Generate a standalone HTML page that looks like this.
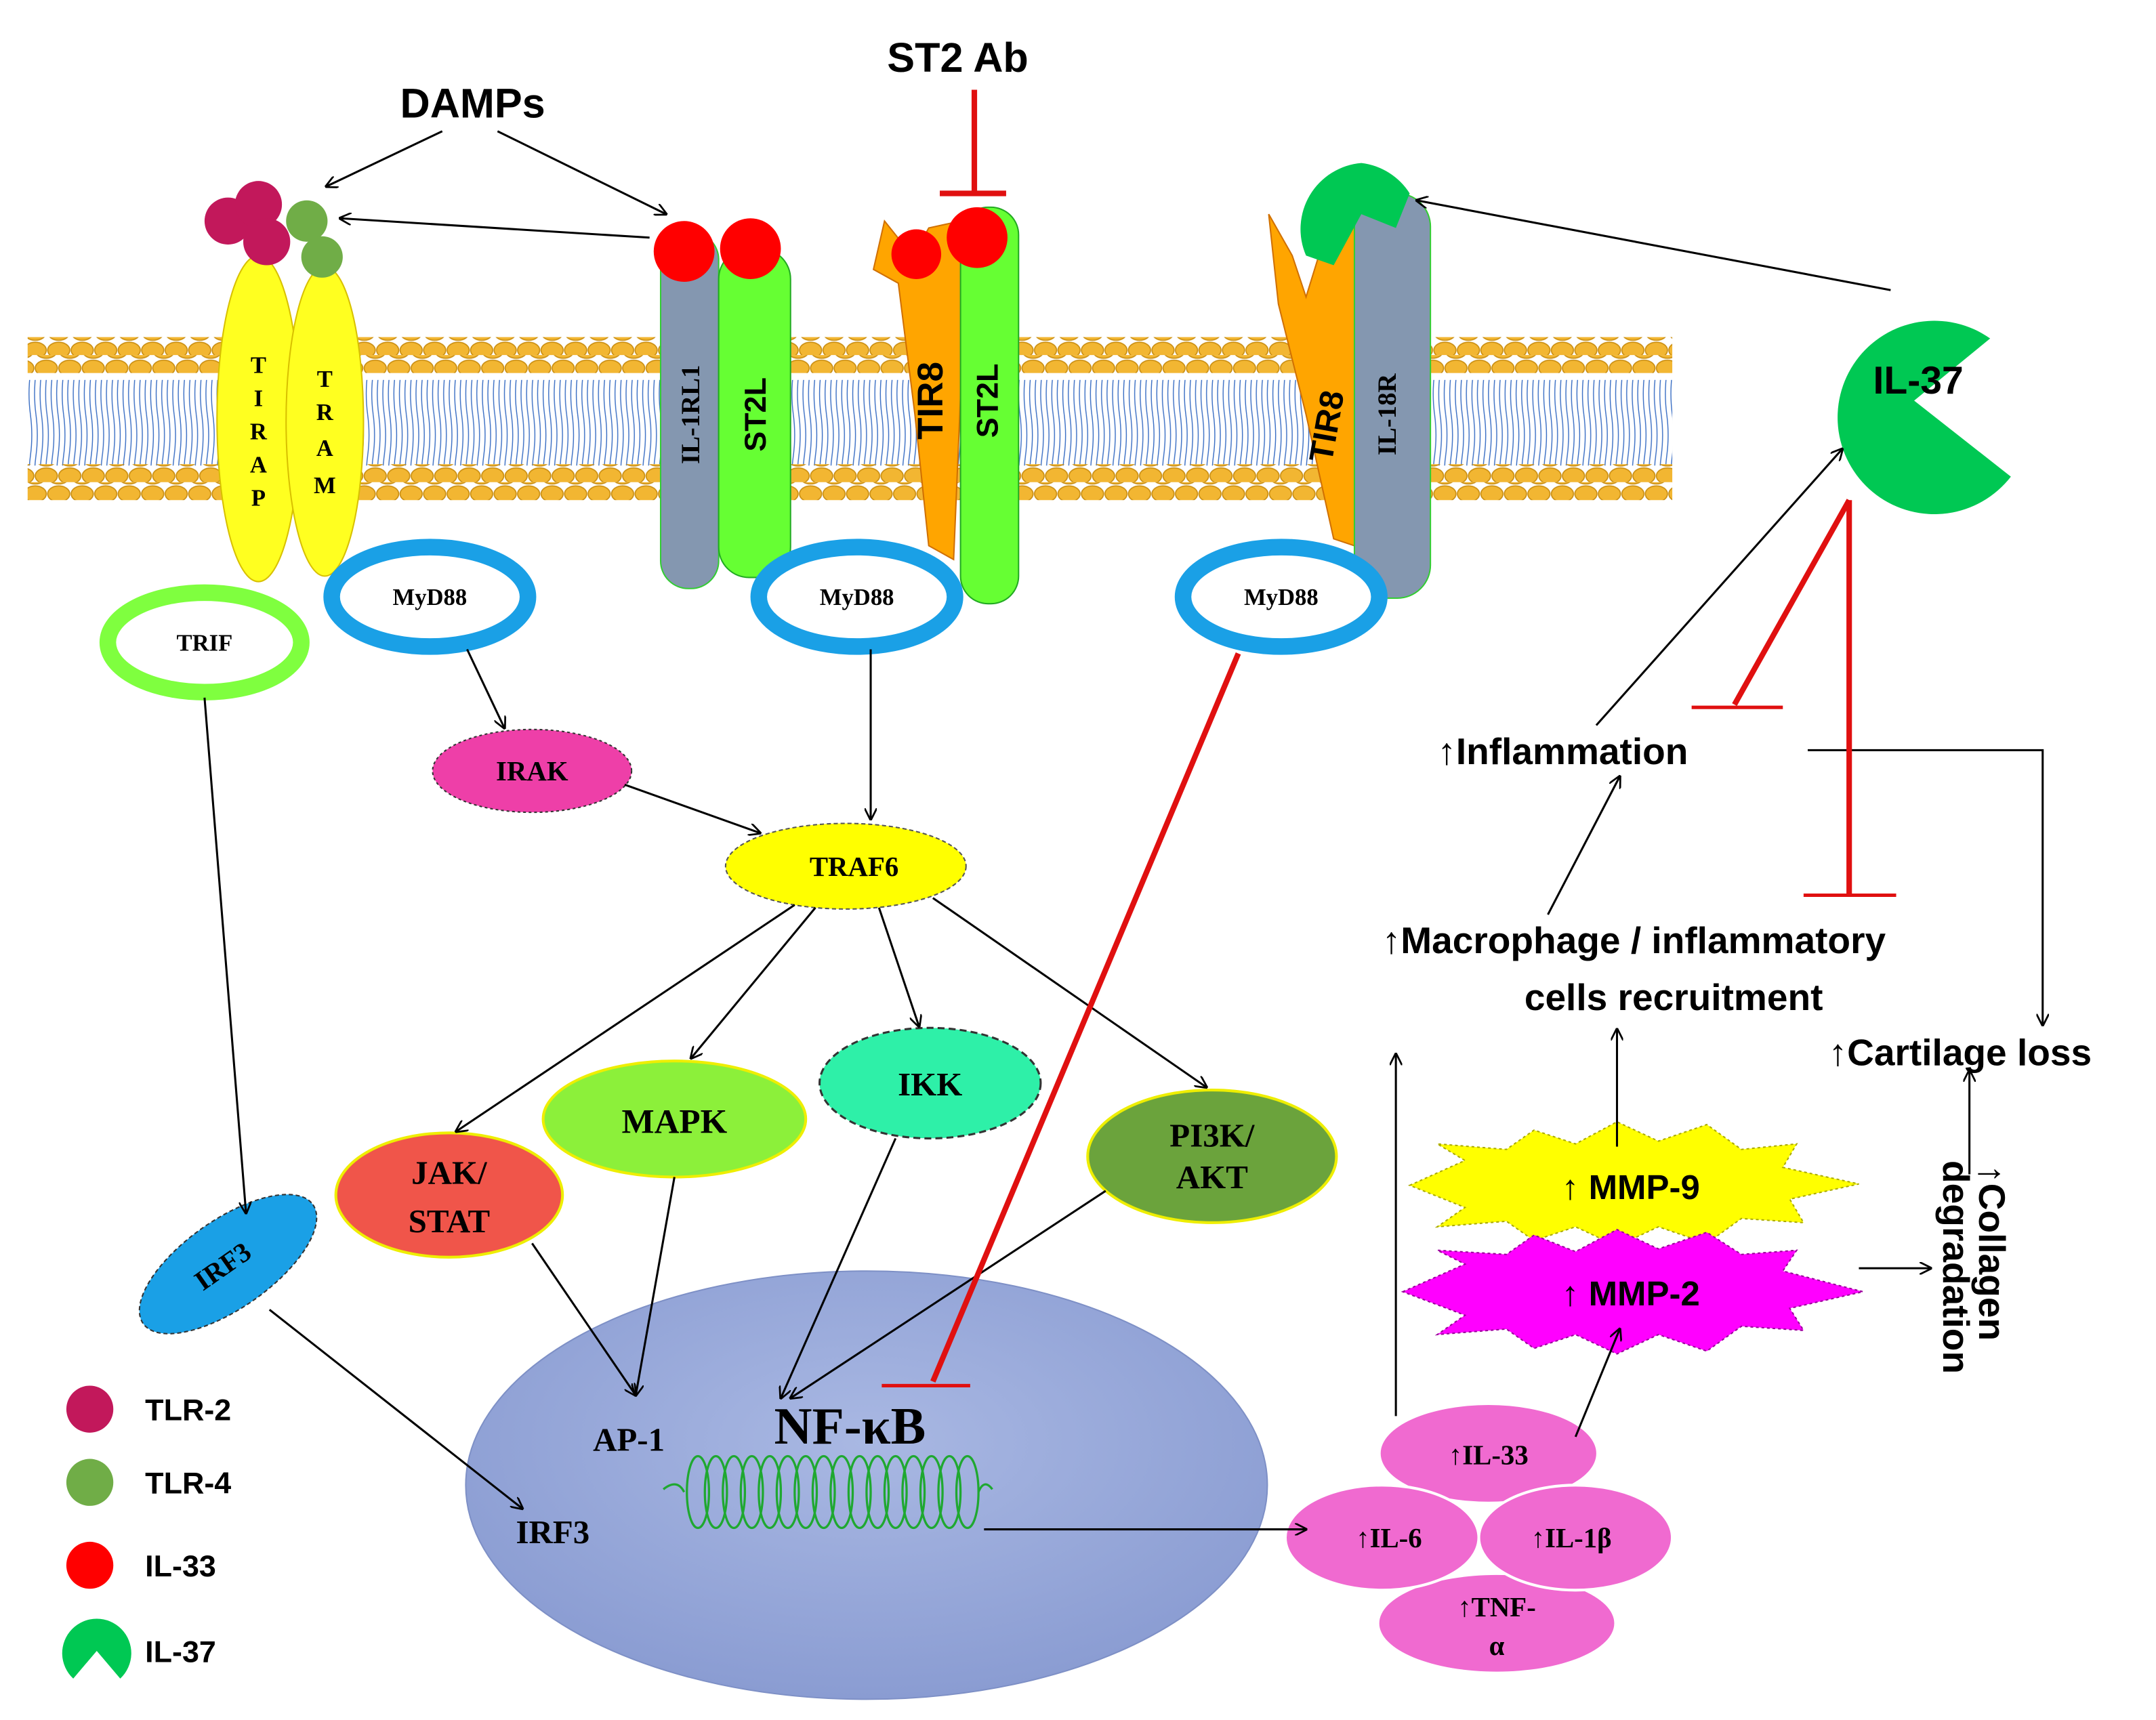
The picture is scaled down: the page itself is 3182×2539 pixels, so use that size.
<!DOCTYPE html>
<html><head><meta charset="utf-8"><style>html,body{margin:0;padding:0;background:#fff}svg{display:block}</style></head>
<body>
<svg width="3182" height="2539" viewBox="0 0 1560 1245" preserveAspectRatio="none" xmlns="http://www.w3.org/2000/svg" font-family="Liberation Sans, sans-serif">
<defs>
<pattern id="heads" width="17" height="13" patternUnits="userSpaceOnUse">
<ellipse cx="8.5" cy="6.5" rx="8" ry="5.8" fill="#f2b632" stroke="#c98d10" stroke-width="0.8"/>
</pattern>
<pattern id="heads2" x="8" width="17" height="13" patternUnits="userSpaceOnUse">
<ellipse cx="8.5" cy="6.5" rx="8" ry="5.8" fill="#f2b632" stroke="#c98d10" stroke-width="0.8"/>
</pattern>
<pattern id="tails" width="8" height="60" patternUnits="userSpaceOnUse">
<path d="M2 0 Q4 15 2 30 Q0 45 2 60 M6 0 Q8 15 6 30 Q4 45 6 60" fill="none" stroke="#3b6fc4" stroke-width="0.7"/>
</pattern>
<marker id="ar" viewBox="0 0 10 10" refX="9" refY="5" markerWidth="9" markerHeight="9" orient="auto-start-reverse" markerUnits="userSpaceOnUse"><path d="M0 0 L10 5 L0 10" fill="none" stroke="#000" stroke-width="1.5"/></marker>
<radialGradient id="nuc" cx="50%" cy="40%" r="60%"><stop offset="0" stop-color="#a9b8e3"/><stop offset="1" stop-color="#8a9cd2"/></radialGradient>
</defs>

<!-- membrane -->
<rect x="20" y="275" width="1190" height="62" fill="url(#tails)"/>
<rect x="20" y="244" width="1190" height="13" fill="url(#heads)"/>
<rect x="20" y="257" width="1190" height="13" fill="url(#heads2)"/>
<rect x="20" y="336" width="1190" height="13" fill="url(#heads2)"/>
<rect x="20" y="349" width="1190" height="13" fill="url(#heads)"/>

<!-- titles -->
<text x="342" y="85" font-size="30" font-weight="bold" text-anchor="middle">DAMPs</text>
<text x="693" y="52" font-size="30" font-weight="bold" text-anchor="middle">ST2 Ab</text>
<g stroke="#e01010" stroke-width="4"><line x1="705" y1="65" x2="705" y2="140"/><line x1="680" y1="140" x2="728" y2="140"/></g>

<!-- TIRAP TRAM -->
<ellipse cx="187" cy="303" rx="30" ry="118" fill="#ffff20" stroke="#d8c000"/>
<ellipse cx="235" cy="305" rx="28" ry="112" fill="#ffff20" stroke="#d8c000"/>
<g font-family="Liberation Serif, serif" font-weight="bold" font-size="17" text-anchor="middle">
<text x="187" y="270">T</text><text x="187" y="294">I</text><text x="187" y="318">R</text><text x="187" y="342">A</text><text x="187" y="366">P</text>
<text x="235" y="280">T</text><text x="235" y="304">R</text><text x="235" y="330">A</text><text x="235" y="357">M</text>
</g>
<circle cx="165" cy="160" r="17" fill="#c2185b"/><circle cx="187" cy="148" r="17" fill="#c2185b"/>
<circle cx="193" cy="175" r="17" fill="#c2185b"/>
<circle cx="222" cy="160" r="15" fill="#70ad47"/><circle cx="233" cy="186" r="15" fill="#70ad47"/>

<!-- IL-1RL1 ST2L -->
<rect x="478" y="168" width="42" height="258" rx="20" fill="#8497b0" stroke="#3c3"/>
<rect x="520" y="180" width="52" height="238" rx="22" fill="#66ff33" stroke="#2a2"/>
<text transform="translate(506,300) rotate(-90)" font-family="Liberation Serif, serif" font-weight="bold" font-size="19" text-anchor="middle">IL-1RL1</text>
<text transform="translate(554,300) rotate(-90)" font-weight="bold" font-size="22" text-anchor="middle">ST2L</text>
<circle cx="495" cy="182" r="22" fill="#f00"/><circle cx="543" cy="180" r="22" fill="#f00"/>

<!-- TIR8 ST2L -->
<path d="M640 160 L652 175 L665 178 L672 165 L695 160 L697 240 L690 405 L672 395 L662 300 L650 205 L632 195 Z" fill="#ffa500" stroke="#d07000"/>
<rect x="695" y="150" width="42" height="287" rx="20" fill="#66ff33" stroke="#2a2"/>
<text transform="translate(682,290) rotate(-90)" font-weight="bold" font-size="26" text-anchor="middle">TIR8</text>
<text transform="translate(722,290) rotate(-90)" font-weight="bold" font-size="22" text-anchor="middle">ST2L</text>
<circle cx="663" cy="184" r="18" fill="#f00"/><circle cx="707" cy="172" r="22" fill="#f00"/>

<!-- TIR8 IL-18R -->
<path d="M918 155 L935 185 L945 215 L962 160 L982 155 L985 250 L980 395 L965 390 L945 300 L925 220 Z" fill="#ffa500" stroke="#d07000"/>
<rect x="980" y="140" width="55" height="293" rx="24" fill="#8497b0" stroke="#3c3"/>
<text transform="translate(968,310) rotate(-80)" font-weight="bold" font-size="24" text-anchor="middle">TIR8</text>
<text transform="translate(1010,300) rotate(-90)" font-family="Liberation Serif, serif" font-weight="bold" font-size="19" text-anchor="middle">IL-18R</text>
<path d="M985 118 A48 48 0 0 1 1020 140 L1010 165 L985 155 L965 192 L945 185 A48 48 0 0 1 985 118 Z" fill="#00c853"/>

<!-- IL-37 big -->
<path d="M1385 290 L1455 345 A70 70 0 1 1 1440 245 Z" fill="#00c853"/>
<text x="1388" y="285" font-size="28" font-weight="bold" text-anchor="middle">IL-37</text>

<!-- adaptors -->
<ellipse cx="148" cy="465" rx="70" ry="36" fill="#fff" stroke="#7fff3f" stroke-width="12"/>
<text x="148" y="471" font-family="Liberation Serif, serif" font-weight="bold" font-size="17" text-anchor="middle">TRIF</text>
<g fill="#fff" stroke="#1aa0e6" stroke-width="12">
<ellipse cx="311" cy="432" rx="71" ry="36"/><ellipse cx="620" cy="432" rx="71" ry="36"/><ellipse cx="927" cy="432" rx="71" ry="36"/></g>
<g font-family="Liberation Serif, serif" font-weight="bold" font-size="17" text-anchor="middle">
<text x="311" y="438">MyD88</text><text x="620" y="438">MyD88</text><text x="927" y="438">MyD88</text></g>

<!-- signaling nodes -->
<ellipse cx="385" cy="558" rx="72" ry="30" fill="#ee3fa8" stroke="#333" stroke-dasharray="2,2"/>
<ellipse cx="612" cy="627" rx="87" ry="31" fill="#ffff00" stroke="#555" stroke-dasharray="3,2"/>
<ellipse cx="673" cy="784" rx="80" ry="40" fill="#2ef0a8" stroke="#333" stroke-width="1.5" stroke-dasharray="5,3"/>
<ellipse cx="488" cy="810" rx="95" ry="42" fill="#8cf03a" stroke="#ee0" stroke-width="2"/>
<ellipse cx="325" cy="865" rx="82" ry="45" fill="#f0554a" stroke="#ee0" stroke-width="2"/>
<ellipse cx="877" cy="837" rx="90" ry="48" fill="#6ba33c" stroke="#ee0" stroke-width="2"/>
<ellipse cx="165" cy="915" rx="75" ry="32" fill="#1aa0e6" stroke="#333" stroke-dasharray="3,2" transform="rotate(-35 165 915)"/>
<g font-family="Liberation Serif, serif" font-weight="bold" text-anchor="middle">
<text x="385" y="565" font-size="20">IRAK</text>
<text x="618" y="634" font-size="20">TRAF6</text>
<text x="673" y="793" font-size="24">IKK</text>
<text x="488" y="820" font-size="25">MAPK</text>
<text x="325" y="857" font-size="24">JAK/</text><text x="325" y="892" font-size="24">STAT</text>
<text x="877" y="830" font-size="24">PI3K/</text><text x="877" y="860" font-size="24">AKT</text>
<text transform="translate(165,922) rotate(-35)" font-size="20">IRF3</text>
</g>

<!-- nucleus -->
<ellipse cx="627" cy="1075" rx="290" ry="155" fill="url(#nuc)" stroke="#7e90c6"/>
<g font-family="Liberation Serif, serif" font-weight="bold" text-anchor="middle">
<text x="455" y="1050" font-size="24">AP-1</text>
<text x="615" y="1045" font-size="38">NF-κB</text>
<text x="400" y="1117" font-size="24">IRF3</text>
</g>
<g fill="none" stroke="#1fa830" stroke-width="1.6">
<path d="M480 1078 Q490 1070 495 1080"/>
<ellipse cx="505" cy="1080" rx="8" ry="26"/>
<ellipse cx="518" cy="1080" rx="8" ry="26"/><ellipse cx="531" cy="1080" rx="8" ry="26"/><ellipse cx="544" cy="1080" rx="8" ry="26"/><ellipse cx="557" cy="1080" rx="8" ry="26"/><ellipse cx="570" cy="1080" rx="8" ry="26"/><ellipse cx="583" cy="1080" rx="8" ry="26"/><ellipse cx="596" cy="1080" rx="8" ry="26"/><ellipse cx="609" cy="1080" rx="8" ry="26"/><ellipse cx="622" cy="1080" rx="8" ry="26"/><ellipse cx="635" cy="1080" rx="8" ry="26"/><ellipse cx="648" cy="1080" rx="8" ry="26"/><ellipse cx="661" cy="1080" rx="8" ry="26"/><ellipse cx="674" cy="1080" rx="8" ry="26"/><ellipse cx="687" cy="1080" rx="8" ry="26"/><ellipse cx="700" cy="1080" rx="8" ry="26"/>
<path d="M708 1080 Q712 1070 718 1078"/>
</g>

<!-- MMP stars -->
<polygon points="1020,858 1060,840 1040,828 1090,832 1110,818 1140,828 1170,812 1200,826 1235,814 1260,832 1300,828 1290,845 1345,857 1295,868 1305,885 1260,882 1235,900 1200,888 1170,902 1140,888 1110,898 1090,884 1040,888 1060,874" fill="#ffff00" stroke="#aa0" stroke-dasharray="2,2"/>
<polygon points="1015,935 1060,915 1040,905 1090,908 1110,894 1140,906 1170,890 1200,904 1235,892 1260,908 1300,905 1290,920 1348,935 1295,947 1305,963 1260,960 1235,978 1200,966 1170,980 1140,966 1110,976 1090,962 1040,966 1060,952" fill="#ff00ff" stroke="#909" stroke-dasharray="2,2"/>
<text x="1180" y="868" font-size="25" font-weight="bold" text-anchor="middle">↑ MMP-9</text>
<text x="1180" y="945" font-size="25" font-weight="bold" text-anchor="middle">↑ MMP-2</text>

<!-- cytokines -->
<g fill="#f06ad0">
<ellipse cx="1077" cy="1052" rx="78" ry="35"/>
<ellipse cx="1083" cy="1175" rx="85" ry="35"/>
<ellipse cx="1000" cy="1113" rx="70" ry="38"/>
<ellipse cx="1140" cy="1113" rx="70" ry="38"/>
</g>
<g fill="none" stroke="#fff" stroke-width="2">
<ellipse cx="1000" cy="1113" rx="70" ry="38"/><ellipse cx="1140" cy="1113" rx="70" ry="38"/></g>
<g font-family="Liberation Serif, serif" font-weight="bold" font-size="20" text-anchor="middle">
<text x="1077" y="1060">↑IL-33</text>
<text x="1005" y="1120">↑IL-6</text>
<text x="1137" y="1120">↑IL-1β</text>
<text x="1083" y="1170">↑TNF-</text><text x="1083" y="1198">α</text>
</g>

<!-- arrows -->
<g stroke="#000" stroke-width="1.5" fill="none" marker-end="url(#ar)">
<line x1="320" y1="95" x2="236" y2="135"/>
<line x1="360" y1="95" x2="482" y2="155"/>
<line x1="470" y1="172" x2="246" y2="158"/>
<line x1="1368" y1="210" x2="1025" y2="145"/>
<line x1="338" y1="470" x2="365" y2="527"/>
<line x1="630" y1="470" x2="630" y2="593"/>
<line x1="452" y1="568" x2="550" y2="603"/>
<line x1="148" y1="505" x2="178" y2="878"/>
<line x1="575" y1="655" x2="330" y2="819"/>
<line x1="590" y1="657" x2="500" y2="766"/>
<line x1="636" y1="657" x2="665" y2="743"/>
<line x1="675" y1="650" x2="873" y2="787"/>
<line x1="385" y1="900" x2="460" y2="1010"/>
<line x1="488" y1="852" x2="460" y2="1010"/>
<line x1="648" y1="824" x2="565" y2="1012"/>
<line x1="800" y1="862" x2="572" y2="1012"/>
<line x1="195" y1="948" x2="378" y2="1092"/>
<line x1="712" y1="1107" x2="945" y2="1107"/>
<line x1="1010" y1="1025" x2="1010" y2="763"/>
<line x1="1140" y1="1040" x2="1172" y2="962"/>
<line x1="1170" y1="830" x2="1170" y2="745"/>
<line x1="1345" y1="918" x2="1397" y2="918"/>
<line x1="1425" y1="850" x2="1425" y2="775"/>
<line x1="1120" y1="662" x2="1172" y2="562"/>
<line x1="1155" y1="525" x2="1333" y2="325"/>
<polyline points="1308,543 1478,543 1478,742"/>
</g>

<!-- red inhibitions -->
<g stroke="#e01010" stroke-width="4">
<line x1="896" y1="473" x2="675" y2="1000"/><line x1="638" y1="1003" x2="702" y2="1003" stroke-width="2.5"/>
<line x1="1338" y1="362" x2="1255" y2="510"/><line x1="1224" y1="512" x2="1290" y2="512" stroke-width="2.5"/>
<line x1="1338" y1="362" x2="1338" y2="648"/><line x1="1305" y1="648" x2="1372" y2="648" stroke-width="2.5"/>
</g>

<!-- outcomes text -->
<g font-size="27" font-weight="bold">
<text x="1040" y="553">↑Inflammation</text>
<text x="1000" y="690">↑Macrophage / inflammatory</text>
<text x="1103" y="731">cells recruitment</text>
<text x="1323" y="771">↑Cartilage loss</text>
</g>
<text transform="translate(1432,843) rotate(90)" font-size="27" font-weight="bold">↑Collagen</text>
<text transform="translate(1406,840) rotate(90)" font-size="27" font-weight="bold">degradation</text>

<!-- legend -->
<circle cx="65" cy="1020" r="17" fill="#c2185b"/>
<circle cx="65" cy="1073" r="17" fill="#70ad47"/>
<circle cx="65" cy="1133" r="17" fill="#f00"/>
<path d="M70 1195 L90 1212 A25 25 0 1 1 90 1178 Z" transform="rotate(90 70 1195)" fill="#00c853"/>
<g font-size="22" font-weight="bold">
<text x="105" y="1028">TLR-2</text><text x="105" y="1081">TLR-4</text><text x="105" y="1141">IL-33</text><text x="105" y="1203">IL-37</text>
</g>
</svg>
</body></html>
